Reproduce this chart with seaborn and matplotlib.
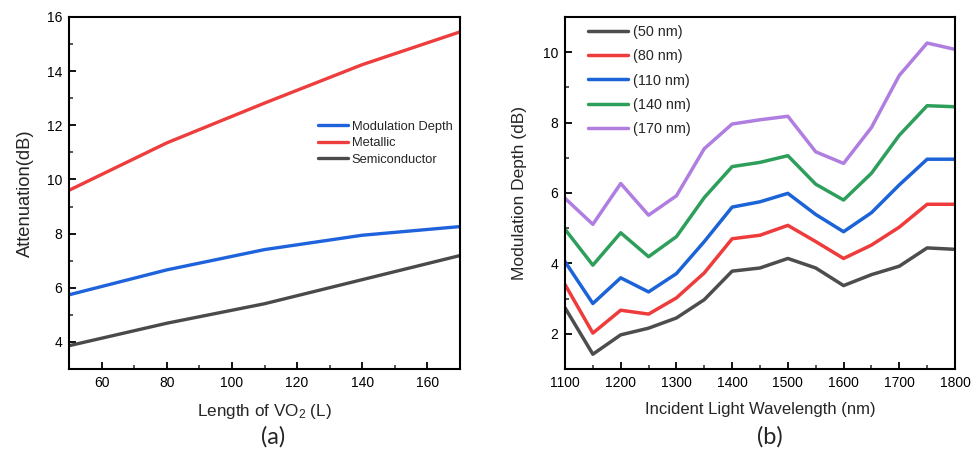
import numpy as np
import pandas as pd
import matplotlib
matplotlib.use("Agg")
import matplotlib.pyplot as plt
from matplotlib.ticker import MultipleLocator
import seaborn as sns

# ---- panel (a): attenuation vs VO2 length ----
vo2_length = [50, 80, 110, 140, 170]
metallic = [9.60, 11.35, 12.82, 14.24, 15.45]
semiconductor = [3.86, 4.69, 5.41, 6.30, 7.19]
modulation_depth = [5.74, 6.66, 7.41, 7.94, 8.26]

# ---- panel (b): modulation depth vs wavelength for several thicknesses ----
wavelength = [1100, 1150, 1200, 1250, 1300, 1350, 1400, 1450,
              1500, 1550, 1600, 1650, 1700, 1750, 1800]
md_50nm = [2.74, 1.42, 1.97, 2.16, 2.45, 2.97, 3.78, 3.87,
           4.14, 3.87, 3.37, 3.68, 3.92, 4.44, 4.40]
md_80nm = [3.40, 2.02, 2.67, 2.56, 3.02, 3.73, 4.70, 4.80,
           5.08, 4.62, 4.14, 4.52, 5.03, 5.68, 5.68]
md_110nm = [4.05, 2.86, 3.59, 3.19, 3.71, 4.62, 5.60, 5.75,
            5.99, 5.39, 4.90, 5.44, 6.23, 6.96, 6.96]
md_140nm = [4.97, 3.95, 4.87, 4.19, 4.76, 5.87, 6.75, 6.87,
            7.06, 6.25, 5.80, 6.56, 7.64, 8.48, 8.45]
md_170nm = [5.85, 5.11, 6.27, 5.37, 5.92, 7.26, 7.96, 8.08,
            8.18, 7.17, 6.84, 7.86, 9.34, 10.26, 10.08]
thickness_labels = ["(50 nm)", "(80 nm)", "(110 nm)", "(140 nm)", "(170 nm)"]

sns.set_theme(style="ticks")
plt.rcParams["font.family"] = ["Liberation Sans", "DejaVu Sans"]
plt.rcParams["mathtext.default"] = "regular"
plt.rcParams["xtick.direction"] = "in"
plt.rcParams["ytick.direction"] = "in"

fig = plt.figure(figsize=(9.74, 4.51), dpi=100)
W, H = 974, 451
ax_a = fig.add_axes([69 / W, (H - 369) / H, 391 / W, 352 / H])
ax_b = fig.add_axes([565 / W, (H - 369) / H, 390 / W, 352 / H])

# panel (a)
df_a = pd.DataFrame({
    "L": vo2_length * 3,
    "dB": modulation_depth + metallic + semiconductor,
    "curve": ["Modulation Depth"] * 5 + ["Metallic"] * 5 + ["Semiconductor"] * 5,
})
pal_a = {"Modulation Depth": "#1f63dc", "Metallic": "#ee3d3d", "Semiconductor": "#4a4a4a"}
sns.lineplot(data=df_a, x="L", y="dB", hue="curve", palette=pal_a,
             hue_order=["Modulation Depth", "Metallic", "Semiconductor"],
             linewidth=2.4, ax=ax_a)
ax_a.set_xlim(50, 170)
ax_a.set_ylim(3, 16)
ax_a.xaxis.set_major_locator(MultipleLocator(20))
ax_a.xaxis.set_minor_locator(MultipleLocator(10))
ax_a.yaxis.set_major_locator(MultipleLocator(2))
ax_a.yaxis.set_minor_locator(MultipleLocator(1))
ax_a.set_xlabel("Length of VO$_2$ (L)", fontsize=12.3, labelpad=9)
ax_a.set_ylabel("Attenuation(dB)", fontsize=13.2, labelpad=9)
ax_a.legend(loc="upper left", bbox_to_anchor=(0.637, 0.705), frameon=False,
            fontsize=9.3, handlelength=2.3, handletextpad=0.3,
            labelspacing=0.35, borderaxespad=0, borderpad=0)

# panel (b)
df_b = pd.DataFrame({
    "wl": wavelength * 5,
    "md": md_50nm + md_80nm + md_110nm + md_140nm + md_170nm,
    "t": [lab for lab in thickness_labels for _ in wavelength],
})
pal_b = dict(zip(thickness_labels,
                 ["#4d4d4d", "#ee3b3b", "#1c63d8", "#2e9e5b", "#b07ee0"]))
sns.lineplot(data=df_b, x="wl", y="md", hue="t", palette=pal_b,
             hue_order=thickness_labels, linewidth=2.5, ax=ax_b)
ax_b.set_xlim(1100, 1800)
ax_b.set_ylim(1, 11)
ax_b.xaxis.set_major_locator(MultipleLocator(100))
ax_b.xaxis.set_minor_locator(MultipleLocator(50))
ax_b.yaxis.set_major_locator(MultipleLocator(2))
ax_b.yaxis.set_minor_locator(MultipleLocator(1))
ax_b.set_xlabel("Incident Light Wavelength (nm)", fontsize=12, labelpad=9)
ax_b.set_ylabel("Modulation Depth (dB)", fontsize=12.5, labelpad=11)
ax_b.legend(loc="upper left", bbox_to_anchor=(0.059, 0.978), frameon=False,
            fontsize=10.4, handlelength=2.8, handletextpad=0.3,
            labelspacing=0.72, borderaxespad=0, borderpad=0)

for ax in (ax_a, ax_b):
    for sp in ax.spines.values():
        sp.set_linewidth(1.5)
        sp.set_color("black")
    ax.tick_params(which="major", length=5, width=1.3, labelsize=10,
                   colors="black", pad=5, top=False, right=False)
    ax.tick_params(which="minor", length=3, width=1.1, top=False, right=False)
    ax.grid(False)

fig.text(273 / W, 1 - 437 / H, "(a)", ha="center", va="center",
         fontsize=17, family=["Lato", "DejaVu Sans"])
fig.text(770 / W, 1 - 437 / H, "(b)", ha="center", va="center",
         fontsize=17, family=["Lato", "DejaVu Sans"])

fig.savefig("out.png", dpi=100, facecolor="white")
